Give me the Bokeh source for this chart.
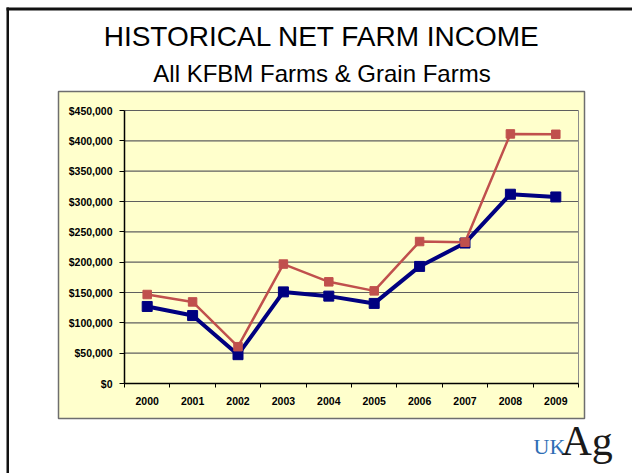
from bokeh.plotting import figure
from bokeh.models import Range1d, FixedTicker, NumeralTickFormatter, LinearAxis
from bokeh.core.properties import value
from bokeh.embed import file_html
from bokeh.resources import INLINE

years = ["2000", "2001", "2002", "2003", "2004", "2005", "2006", "2007", "2008", "2009"]
all_farms = [127000, 112000, 47500, 151000, 144000, 132000, 193000, 231500, 312000, 307500]
grain_farms = [146700, 134500, 60700, 196900, 167600, 152700, 234000, 232800, 411400, 410800]
y_ticks = [0, 50000, 100000, 150000, 200000, 250000, 300000, 350000, 400000, 450000]
title_text = "HISTORICAL NET FARM INCOME"
subtitle_text = "All KFBM Farms & Grain Farms"
logo_left = "UK"
logo_right = "Ag"

# ---- page layout (pixels from the page's top-left corner)
W, H = 632, 473
BX0, BX1, BY0, BY1 = 58, 584, 91, 418   # yellow chart panel
PX0, PY0, PW, PH = 124, 110, 454, 273   # plot area
YMAX = 450000
n = len(years)

# data ranges chosen so that the plot area lands on PX0..PX0+PW, PY0..PY0+PH
px_per_x = PW / n
px_per_y = PH / YMAX
xr = Range1d(-PX0 / px_per_x, (W - PX0) / px_per_x)
yr = Range1d(-(H - PY0 - PH) / px_per_y, (PY0 + PH) / px_per_y)

p = figure(width=W, height=H, x_range=Range1d(0, W), y_range=Range1d(H, 0),
           output_backend="svg", toolbar_location=None, min_border=0,
           x_axis_location=None, y_axis_location=None)
p.extra_x_ranges = {"xr": xr}
p.extra_y_ranges = {"yr": yr}
p.grid.visible = False
p.outline_line_color = None
p.background_fill_color = "white"
p.border_fill_color = "white"

BLACK = "#111111"
# slide frame
p.quad(left=[6], right=[W], top=[7], bottom=[10], fill_color=BLACK, line_color=None)
p.quad(left=[6], right=[8.5], top=[7], bottom=[H], fill_color=BLACK, line_color=None)
# chart panel
p.quad(left=[BX0], right=[BX1], top=[BY0], bottom=[BY1], fill_color="#FFFFCC",
       line_color="#6e6e6e", line_width=1.5)

# titles
p.text(x=[321.5], y=[36], text=[title_text], text_align="center", text_baseline="alphabetic",
       text_font=value("Liberation Sans"), text_font_size="28px", text_color="black")
p.text(x=[321.5], y=[73], text=[subtitle_text], text_align="center", text_baseline="alphabetic",
       text_font=value("Liberation Sans"), text_font_size="24px", text_color="black")

# logo
p.text(x=[533], y=[446], text=[logo_left], text_align="left", text_baseline="alphabetic",
       text_font=value("Liberation Serif"), text_font_size="22px", text_color="#2e6db4")
p.text(x=[561], y=[440], text=[logo_right], text_align="left", text_baseline="alphabetic",
       text_font=value("Liberation Serif"), text_font_size="42px", text_color="#1a1a1a")

# grid lines and right border of the plot area
p.segment(x0=[0] * len(y_ticks), x1=[n] * len(y_ticks), y0=y_ticks, y1=y_ticks,
          line_color="#5f5f5f", line_width=1.2, x_range_name="xr", y_range_name="yr")
p.segment(x0=[n], x1=[n], y0=[0], y1=[YMAX], line_color="#8c8c8c", line_width=1,
          x_range_name="xr", y_range_name="yr")

# series
xs = [i + 0.5 for i in range(n)]
p.line(xs, all_farms, line_color="#000080", line_width=4, x_range_name="xr", y_range_name="yr")
p.scatter(xs, all_farms, marker="square", size=10, fill_color="#000080", line_color="#000080",
          x_range_name="xr", y_range_name="yr")
p.line(xs, grain_farms, line_color="#C0504D", line_width=2.5, x_range_name="xr", y_range_name="yr")
p.scatter(xs, grain_farms, marker="square", size=8.5, fill_color="#C0504D", line_color="#C0504D",
          x_range_name="xr", y_range_name="yr")

# axes (fixed inside the canvas at the plot-area edges)
xa = LinearAxis(x_range_name="xr", fixed_location=PY0 + PH, bounds=(0, n))
xa.ticker = FixedTicker(ticks=xs, minor_ticks=list(range(n + 1)))
xa.major_label_overrides = {x: y for x, y in zip(xs, years)}
xa.major_tick_in = 0
xa.major_tick_out = 0
xa.minor_tick_in = 0
xa.minor_tick_out = 4
xa.minor_tick_line_color = "black"
xa.axis_line_color = "black"
xa.axis_line_width = 1.5
xa.major_label_standoff = 9
xa.major_label_text_font = "Liberation Sans"
xa.major_label_text_font_style = "bold"
xa.major_label_text_font_size = "10.5px"
xa.major_label_text_color = "black"
p.add_layout(xa, "below")

ya = LinearAxis(y_range_name="yr", fixed_location=PX0, bounds=(0, YMAX))
ya.ticker = FixedTicker(ticks=y_ticks, minor_ticks=[])
ya.formatter = NumeralTickFormatter(format="$0,0")
ya.major_tick_in = 0
ya.major_tick_out = 5
ya.major_tick_line_color = "black"
ya.axis_line_color = "black"
ya.axis_line_width = 1.5
ya.major_label_standoff = 7
ya.major_label_text_font = "Liberation Sans"
ya.major_label_text_font_style = "bold"
ya.major_label_text_font_size = "10.5px"
ya.major_label_text_color = "black"
p.add_layout(ya, "left")

open("out.html", "w").write(file_html(p, INLINE))
